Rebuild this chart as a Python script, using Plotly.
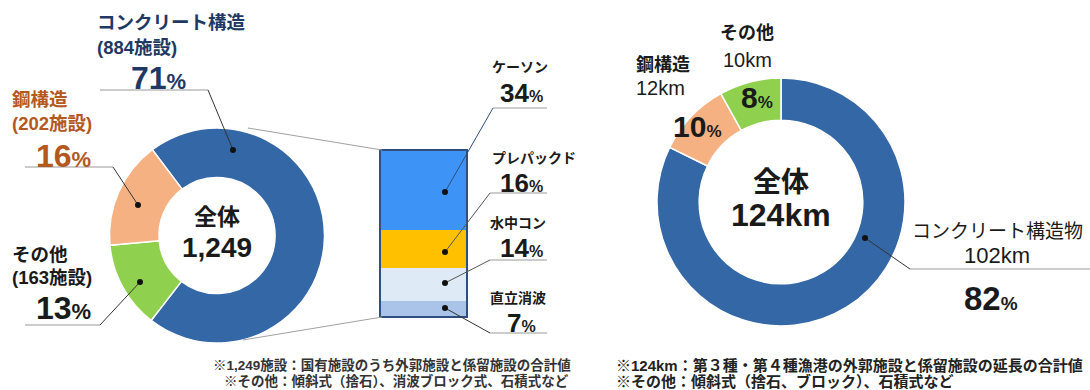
import plotly.graph_objects as go

W, H = 1090, 390
# Latin face first (compact line box), CJK glyphs fall back to Noto Sans CJK JP
FONT = "Liberation Sans, Noto Sans CJK JP"

# Left donut: facility counts by structure type
fac_labels = ["コンクリート構造", "その他", "鋼構造"]
fac_counts = [884, 163, 202]
fac_colors = ["#3467A5", "#8FD14F", "#F6B183"]

# Breakdown of concrete structures (percent of all facilities)
conc_labels = ["直立消波", "水中コン", "プレパックド", "ケーソン"]
conc_pct = [7, 14, 16, 34]
conc_colors = ["#A9C4E8", "#DEEBF7", "#FFC000", "#3D94F6"]

# Right donut: length (km) by structure type
len_labels = ["コンクリート構造物", "鋼構造", "その他"]
len_km = [102, 12, 10]
len_colors = ["#3467A5", "#F6B183", "#8FD14F"]

fac_total = sum(fac_counts)
len_total = sum(len_km)
fac_share = {k: round(v / fac_total * 100) for k, v in zip(fac_labels, fac_counts)}
fac_count = dict(zip(fac_labels, fac_counts))
len_share = {k: round(v / len_total * 100) for k, v in zip(len_labels, len_km)}
len_val = dict(zip(len_labels, len_km))
conc_share = dict(zip(conc_labels, conc_pct))


def px(x):
    return x / W


def py(y):
    return 1 - y / H


def pct(n, small):
    return f"{n}<span style='font-size:{small}px'>%</span>"


fig = go.Figure()

# left donut
lc, lr = (217, 235.5), 107.5
fig.add_trace(go.Pie(
    labels=fac_labels, values=fac_counts, hole=0.54, sort=False,
    direction="clockwise", rotation=-37,
    marker=dict(colors=fac_colors, line=dict(color="white", width=1.5)),
    textinfo="none", hoverinfo="label+value+percent", showlegend=False,
    domain=dict(x=[px(lc[0] - lr), px(lc[0] + lr)], y=[py(lc[1] + lr), py(lc[1] - lr)]),
))

# right donut
rc, rr = (781, 202), 124
fig.add_trace(go.Pie(
    labels=len_labels, values=len_km, hole=0.66, sort=False,
    direction="clockwise", rotation=0,
    marker=dict(colors=len_colors, line=dict(color="white", width=1.5)),
    textinfo="none", hoverinfo="label+value+percent", showlegend=False,
    domain=dict(x=[px(rc[0] - rr), px(rc[0] + rr)], y=[py(rc[1] + rr), py(rc[1] - rr)]),
))

# stacked bar for the concrete breakdown
for lab, v, c in zip(conc_labels, conc_pct, conc_colors):
    fig.add_trace(go.Bar(
        x=[0], y=[v], name=lab, marker=dict(color=c, line=dict(width=0)),
        width=1, showlegend=False, xaxis="x", yaxis="y",
        hovertemplate=f"{lab}: %{{y}}%<extra></extra>",
    ))

bx0, bx1, by0, by1 = 380, 467, 150, 317
fig.update_layout(
    barmode="stack", bargap=0,
    xaxis=dict(domain=[px(bx0), px(bx1)], range=[-0.5, 0.5], visible=False, fixedrange=True),
    yaxis=dict(domain=[py(by1), py(by0)], range=[0, sum(conc_pct)], visible=False, fixedrange=True),
    width=W, height=H, margin=dict(l=0, r=0, t=0, b=0),
    paper_bgcolor="white", plot_bgcolor="white",
    font=dict(family=FONT, color="#1a1a1a"),
)

shapes = []
# frame around the bar
shapes.append(dict(type="rect", xref="x domain", yref="y domain", x0=0, x1=1, y0=0, y1=1,
                   line=dict(color="#2F4F7F", width=2)))


def line(pts, color="#666", width=1):
    for (x0, y0), (x1, y1) in zip(pts[:-1], pts[1:]):
        shapes.append(dict(type="line", xref="paper", yref="paper",
                           x0=px(x0), y0=py(y0), x1=px(x1), y1=py(y1),
                           line=dict(color=color, width=width)))


def dot(x, y, r=3):
    shapes.append(dict(type="circle", xref="paper", yref="paper",
                       x0=px(x - r), x1=px(x + r), y0=py(y + r), y1=py(y - r),
                       fillcolor="#111", line=dict(width=0)))


# zoom connector lines
line([(248, 128), (382, 150)], color="#A0A0A0")
line([(243, 340), (382, 317)], color="#A0A0A0")

# left donut leaders
line([(100, 90), (208, 90)], color="#999")
line([(208, 90), (233, 150)], color="#333")
dot(233, 150)
line([(25, 167), (113, 167)], color="#999")
line([(113, 167), (138, 205)], color="#333")
dot(138, 205)
line([(25, 325), (100, 325)], color="#999")
line([(100, 325), (140, 282)], color="#333")
dot(140, 282)

# bar leaders
line([(493, 108), (547, 108)], color="#999")
line([(493, 108), (445, 192)], color="#2F4F7F")
dot(445, 192)
line([(490, 193), (547, 193)], color="#999")
line([(490, 193), (445, 252)], color="#555")
dot(445, 252)
line([(490, 260), (547, 260)], color="#999")
line([(490, 260), (445, 283)], color="#555")
dot(445, 283)
line([(445, 308), (490, 333)], color="#333")
line([(490, 333), (547, 333)], color="#999")
dot(445, 308)

# right donut leader
line([(865, 238), (910, 269)], color="#333")
line([(910, 269), (1090, 269)], color="#999")
dot(865, 238)

fig.update_layout(shapes=shapes)

ann = []


def text(x, y, s, size, color="#1a1a1a", anchor="center", bold=False):
    if bold:
        s = f"<b>{s}</b>"
    ann.append(dict(x=px(x), y=py(y), xref="paper", yref="paper", text=s, showarrow=False,
                    xanchor=anchor, yanchor="middle", align=anchor,
                    font=dict(family=FONT, size=size, color=color)))


NAVY, BROWN = "#203864", "#B4581E"

# left donut labels
c = "コンクリート構造"
text(95, 22, c, 18.5, NAVY, "left", True)
text(95, 47, f"({fac_count[c]}施設)", 18.5, NAVY, "left", True)
text(129, 78, pct(fac_share[c], 22), 32, NAVY, "left", True)
s = "鋼構造"
text(10, 100, s, 18.5, BROWN, "left", True)
text(10, 123, f"({fac_count[s]}施設)", 18.5, BROWN, "left", True)
text(34, 156, pct(fac_share[s], 22), 32, BROWN, "left", True)
o = "その他"
text(10, 254, o, 18.5, "#1a1a1a", "left", True)
text(10, 277, f"({fac_count[o]}施設)", 18.5, "#1a1a1a", "left", True)
text(34, 308, pct(fac_share[o], 22), 32, "#1a1a1a", "left", True)

text(lc[0], 217, "全体", 23, bold=True)
text(lc[0], 248, f"{fac_total:,}", 28, bold=True)

# bar labels
bar_pos = {"ケーソン": (520, 67, 93), "プレパックド": (534, 158, 183),
           "水中コン": (518, 223, 248), "直立消波": (518, 298, 323)}
for lab in reversed(conc_labels):
    x, y1, y2 = bar_pos[lab]
    text(x, y1, lab, 14, "#1a1a1a", bold=True)
    text(521, y2, pct(conc_share[lab], 16), 26, bold=True)

# right donut labels
o = "その他"
text(747, 33, o, 18, bold=True)
text(747, 60, f"{len_val[o]}km", 20)
s = "鋼構造"
text(634, 65, s, 18, anchor="left", bold=True)
text(634, 88, f"{len_val[s]}km", 20, anchor="left")
text(757, 97, pct(len_share[o], 17), 30, bold=True)
text(697, 127, pct(len_share[s], 17), 30, bold=True)
text(rc[0], 182, "全体", 28, bold=True)
text(rc[0], 215, f"{len_total}km", 32, bold=True)
c = "コンクリート構造物"
text(997, 231, c, 19)
text(997, 255, f"{len_val[c]}km", 22)
text(991, 298, pct(len_share[c], 19), 33, bold=True)

# footnotes
text(392, 365, f"※{fac_total:,}施設：国有施設のうち外郭施設と係留施設の合計値", 13.5, "#333", bold=True)
text(396, 381, "※その他：傾斜式（捨石）、消波ブロック式、石積式など", 13.5, "#333", bold=True)
text(614, 365, f"※{len_total}km：第３種・第４種漁港の外郭施設と係留施設の延長の合計値", 15, "#222", "left", True)
text(614, 381, "※その他：傾斜式（捨石、ブロック）、石積式など", 15, "#222", "left", True)

fig.update_layout(annotations=ann)
fig.write_html("out.html")
